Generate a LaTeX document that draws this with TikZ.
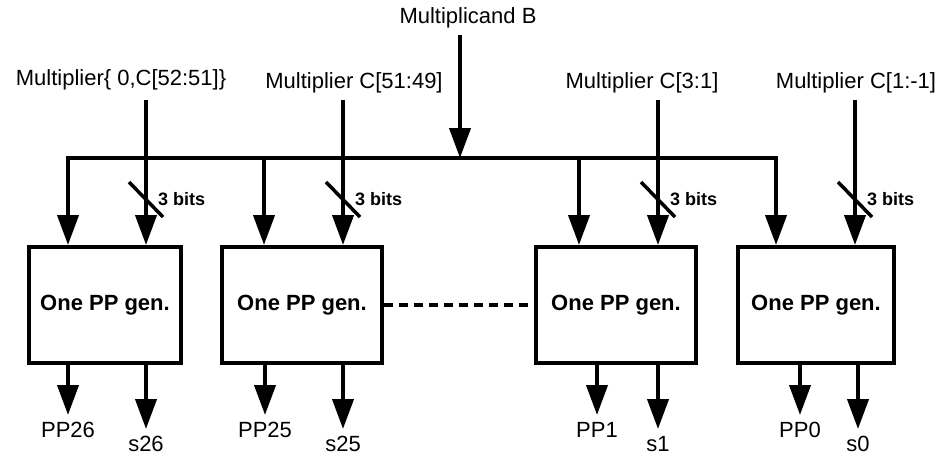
\documentclass[tikz,border=0pt]{standalone}
\usepackage{fontspec}
\setmainfont{Liberation Sans}
\usetikzlibrary{arrows.meta}
\begin{document}
\begin{tikzpicture}[x=1pt,y=-1pt,
  wire/.style={line width=4pt},
  arr/.style={wire,-{Triangle[length=30pt,width=21pt]}},
  ppbox/.style={draw,line width=4pt,minimum height=116pt,inner sep=0pt,
    font=\fontsize{22}{26}\selectfont\bfseries},
  lbl/.style={font=\fontsize{22}{26}\selectfont,inner sep=0pt,anchor=base},
  bits/.style={font=\fontsize{18}{22}\selectfont\bfseries,inner sep=0pt,anchor=west},
  slash/.style={line width=3.5pt}]
\useasboundingbox (0,0) rectangle (942,456);

% boxes
\node[ppbox,minimum width=152pt] (b1) at (105,305) {One PP gen.};
\node[ppbox,minimum width=160pt] (b2) at (302,305) {One PP gen.};
\node[ppbox,minimum width=160pt] (b3) at (616,305) {One PP gen.};
\node[ppbox,minimum width=156pt] (b4) at (816,305) {One PP gen.};

% top labels
\node[lbl] (mb) at (468,23) {Multiplicand B};
\node[lbl] (ml1) at (121,85) {Multiplier\{ 0,C[52:51]\}};
\node[lbl] (ml2) at (354,88) {Multiplier C[51:49]};
\node[lbl] (ml3) at (642,88) {Multiplier C[3:1]};
\node[lbl] (ml4) at (856,88) {Multiplier C[1:-1]};

% multiplicand bus
\coordinate (bt) at (460,35);
\coordinate (bj) at (460,158);
\coordinate (t1) at (68,158);
\coordinate (t2) at (264,158);
\coordinate (t3) at (579,158);
\coordinate (t4) at (776,158);
\draw[arr] (bt) -- (bj);
\draw[wire,{Triangle[length=30pt,width=21pt]}-{Triangle[length=30pt,width=21pt]}]
  (t1 |- b1.north) -- (t1) -- (t4) -- (t4 |- b4.north);
\draw[arr] (t2) -- (t2 |- b2.north);
\draw[arr] (t3) -- (t3 |- b3.north);

% multiplier lines
\coordinate (m1) at (146,100);
\coordinate (m2) at (343,100);
\coordinate (m3) at (658,100);
\coordinate (m4) at (855,100);
\draw[arr] (m1) -- (m1 |- b1.north);
\draw[arr] (m2) -- (m2 |- b2.north);
\draw[arr] (m3) -- (m3 |- b3.north);
\draw[arr] (m4) -- (m4 |- b4.north);

% 3-bit slashes
\foreach \i/\x in {1/146,2/343,3/658,4/855}{
  \coordinate (s\i) at (\x,199);
  \draw[slash] ([shift={(-17,-17)}]s\i) -- ([shift={(17,18)}]s\i);
  \node[bits] (k\i) at ([xshift=12pt]s\i) {3 bits};
}

% dashed link
\draw[wire,dash pattern=on 9pt off 6pt] (b2.east) -- (b3.west);

% outputs
\node[lbl] (pp26) at (68,437) {PP26};
\node[lbl] (s26) at (146,451) {s26};
\node[lbl] (pp25) at (265,437) {PP25};
\node[lbl] (s25) at (343,451) {s25};
\node[lbl] (pp1) at (597,437) {PP1};
\node[lbl] (s1) at (658,451) {s1};
\node[lbl] (pp0) at (800,437) {PP0};
\node[lbl] (s0) at (858,451) {s0};

\draw[arr] (b1.south -| pp26) -- ++(0,50);
\draw[arr] (b1.south -| s26) -- ++(0,64);
\draw[arr] (b2.south -| pp25) -- ++(0,50);
\draw[arr] (b2.south -| s25) -- ++(0,64);
\draw[arr] (b3.south -| pp1) -- ++(0,50);
\draw[arr] (b3.south -| s1) -- ++(0,64);
\draw[arr] (b4.south -| pp0) -- ++(0,50);
\draw[arr] (b4.south -| s0) -- ++(0,64);
\end{tikzpicture}
\end{document}
